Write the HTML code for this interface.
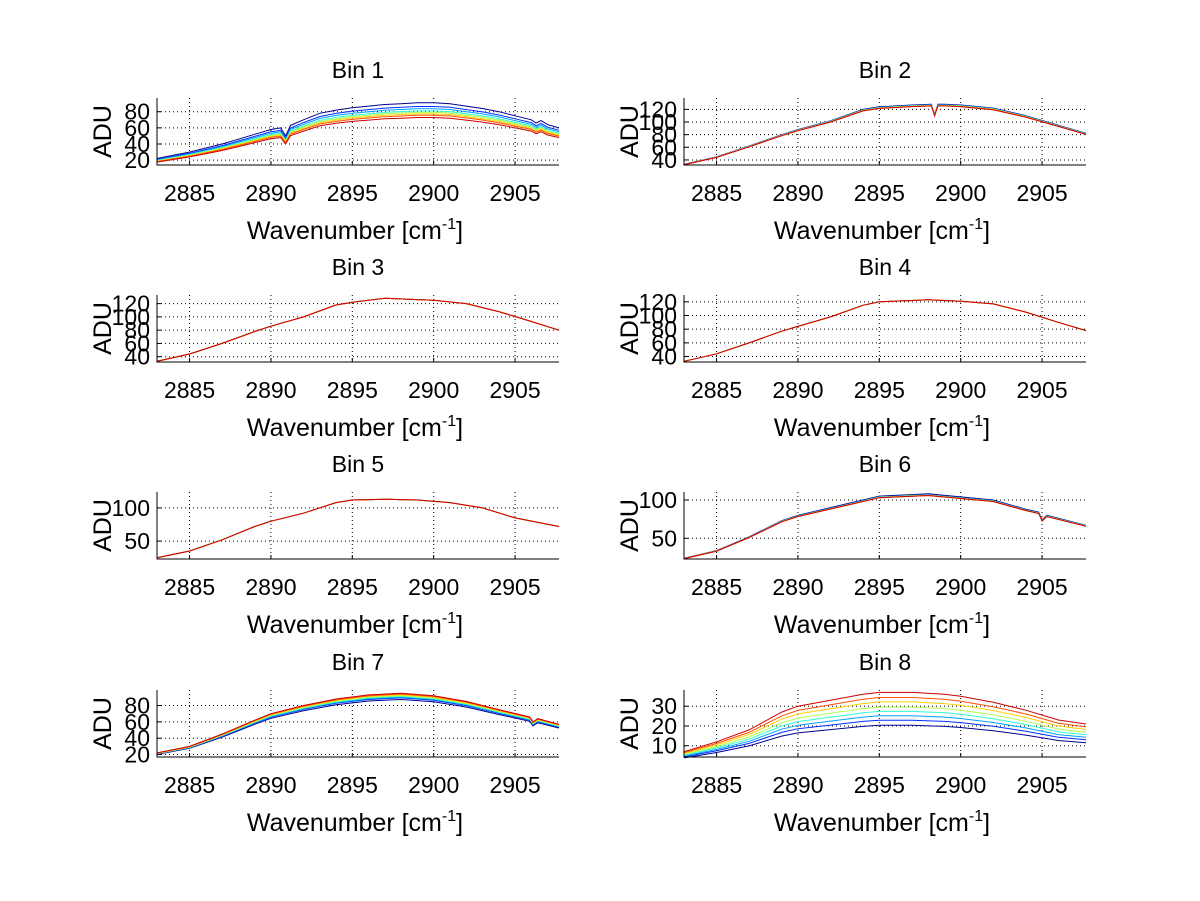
<!DOCTYPE html>
<html><head><meta charset="utf-8"><style>
html,body{margin:0;padding:0;background:#fff;}
svg{display:block;font-family:"Liberation Sans",sans-serif;}
</style></head><body>
<svg id="fig" width="1200" height="901" viewBox="0 0 1200 901" xmlns="http://www.w3.org/2000/svg">
<rect width="1200" height="901" fill="#fff"/>
</svg>
<script>
// Shared x data
const xTicks = [2885, 2890, 2895, 2900, 2905];
const xLim = [2883, 2907.7];
const seriesColors = ["#00008F","#0030FF","#00A0FF","#30FFD0","#B0FF50","#FFD000","#FF5000","#D00000"];

// Bin curves: x positions and reference-curve values
const bin1X = [2883,2884,2885,2886,2887,2888,2889,2890,2890.6,2890.9,2891.2,2892,2893,2894,2895,2896,2897,2898,2899,2900,2901,2902,2903,2904,2905,2906,2906.3,2906.6,2907,2907.7];
const bin1Y = [22,26,30,35,40,46,52,58,60,50,63,70,78,82,85,87,89,90,91,91,90,87,84,80,75,70,66,69,64,60];
const bin1Factors = [1.0,0.95,0.92,0.89,0.87,0.85,0.83,0.80];

const bin2X = [2883,2885,2887,2889,2890,2892,2894,2895,2897,2898.2,2898.4,2898.6,2899,2900,2902,2904,2906,2907.7];
const bin2Y = [33,45,62,80,88,102,120,124,127,128,112,128,128,127,122,110,95,82];
const bin2Factors = [1.0,0.995,0.99,0.99,0.985,0.985,0.98,0.98];

const bin3X = [2883,2885,2887,2889,2890,2892,2894,2895,2897,2899,2900,2902,2904,2906,2907.7];
const bin3Y = [33,44,60,78,86,100,118,122,128,126,125,120,108,93,80];
const bin3Factors = [1.0,1.0,1.0,1.0,1.0,1.0,1.0,1.0];

const bin4X = [2883,2885,2887,2889,2890,2892,2894,2895,2897,2898,2899,2900,2902,2904,2906,2907.7];
const bin4Y = [33,44,60,77,84,98,115,120,122,123,122,121,117,105,90,78];
const bin4Factors = [1.0,1.0,1.0,1.0,1.0,1.0,1.0,1.0];

const bin5X = [2883,2885,2887,2889,2890,2892,2894,2895,2897,2899,2901,2903,2905,2907.7];
const bin5Y = [25,35,52,72,80,92,108,112,113,112,108,100,85,72];
const bin5Factors = [1.0,1.0,1.0,1.0,1.0,1.0,1.0,1.0];

const bin6X = [2883,2885,2887,2889,2890,2892,2894,2895,2897,2898,2900,2902,2904,2904.8,2905,2905.3,2907.7];
const bin6Y = [24,34,52,73,80,90,100,105,107,108,104,100,88,84,74,80,67];
const bin6Factors = [1.0,0.99,0.99,0.985,0.985,0.98,0.98,0.98];

const bin7X = [2883,2885,2887,2889,2890,2892,2894,2896,2898,2900,2902,2904,2905.9,2906.1,2906.4,2907.7];
const bin7Y = [22,30,45,62,70,80,88,93,95,92,85,75,66,60,64,57];
const bin7Factors = [0.92,0.94,0.95,0.96,0.97,0.98,0.99,1.0];

const bin8X = [2883,2885,2887,2889,2890,2892,2894,2895,2897,2899,2900,2902,2904,2906,2907.7];
const bin8Y = [7,12,18,27,30,33,36,37,37,36,35,32,28,23,21];
const bin8Factors = [0.55,0.62,0.68,0.74,0.80,0.87,0.93,1.0];

const binTitles = ["Bin 1","Bin 2","Bin 3","Bin 4","Bin 5","Bin 6","Bin 7","Bin 8"];
const yTicks = [[20,40,60,80],[40,60,80,100,120],[40,60,80,100,120],[40,60,80,100,120],[50,100],[50,100],[20,40,60,80],[10,20,30]];
const yLims = [[14,97],[32,138],[32,133],[32,130],[23,124],[23,110.4],[17,99],[4.3,38.2]];
const binXs = [bin1X,bin2X,bin3X,bin4X,bin5X,bin6X,bin7X,bin8X];
const binYs = [bin1Y,bin2Y,bin3Y,bin4Y,bin5Y,bin6Y,bin7Y,bin8Y];
const binFactors = [bin1Factors,bin2Factors,bin3Factors,bin4Factors,bin5Factors,bin6Factors,bin7Factors,bin8Factors];

const NS = "http://www.w3.org/2000/svg";
const svg = document.getElementById("fig");
function mk(tag, attrs, parent){
  const e = document.createElementNS(NS, tag);
  for (const k in attrs) e.setAttribute(k, attrs[k]);
  (parent||svg).appendChild(e);
  return e;
}
const colLeft = [157, 684], colW = 402;
const rowTop = [98, 295, 492, 690], rowH = 67;

for (let b = 0; b < 8; b++) {
  const L = colLeft[b % 2], T = rowTop[Math.floor(b / 2)], R = L + colW, B = T + rowH;
  const yl = yLims[b];
  const sx = v => L + (v - xLim[0]) / (xLim[1] - xLim[0]) * colW;
  const sy = v => B - (v - yl[0]) / (yl[1] - yl[0]) * rowH;
  const g = mk("g", {});
  
  

  xTicks.forEach(t => {
    const l = mk("line", {x1: sx(t), x2: sx(t), y1: T, y2: B, stroke: "#000", "stroke-width": 1, "stroke-dasharray": "1,3"}, g);
    
    
    mk("line", {x1: sx(t), x2: sx(t), y1: B, y2: B - 4, stroke: "#000"}, g);
    const tx = mk("text", {x: sx(t), y: B + 36, "font-size": 23, "text-anchor": "middle"}, g);
    tx.textContent = t;
    
    
  });
  yTicks[b].forEach(t => {
    const l = mk("line", {x1: L, x2: R, y1: sy(t), y2: sy(t), stroke: "#000", "stroke-width": 1, "stroke-dasharray": "1,3"}, g);
    
    
    mk("line", {x1: L, x2: L + 4, y1: sy(t), y2: sy(t), stroke: "#000"}, g);
    const tx = mk("text", {x: L - 7, y: sy(t) + 8, "font-size": 23, "text-anchor": "end"}, g);
    tx.textContent = t;
    
    
  });

  const xs = binXs[b], ys = binYs[b];
  binFactors[b].forEach((f, i) => {
    const pts = xs.map((x, j) => sx(x).toFixed(1) + "," + sy(ys[j] * f).toFixed(1)).join(" ");
    const p = mk("polyline", {points: pts, fill: "none", stroke: seriesColors[i], "stroke-width": 1}, g);
    
    
  });

  const ax = mk("path", {d: `M${L},${T}V${B}H${R}`, fill: "none", stroke: "#000", "stroke-width": 1}, g);
  
  

  const title = mk("text", {x: (L + R) / 2, y: T - 20, "font-size": 23, "text-anchor": "middle"}, g);
  title.textContent = binTitles[b];
  
  

  const xl = mk("text", {x: (L + R) / 2 - 3, y: B + 74, "font-size": 25, "text-anchor": "middle"}, g);
  xl.innerHTML = 'Wavenumber [cm<tspan dy="-10" font-size="16">-1</tspan><tspan dy="10">]</tspan>';
  
  

  const yt = mk("text", {x: 0, y: 0, "font-size": 25, "text-anchor": "middle", transform: `translate(${L - 46},${(T + B) / 2}) rotate(-90)`}, g);
  yt.textContent = "ADU";
  
  
}
</script>
</body></html>
